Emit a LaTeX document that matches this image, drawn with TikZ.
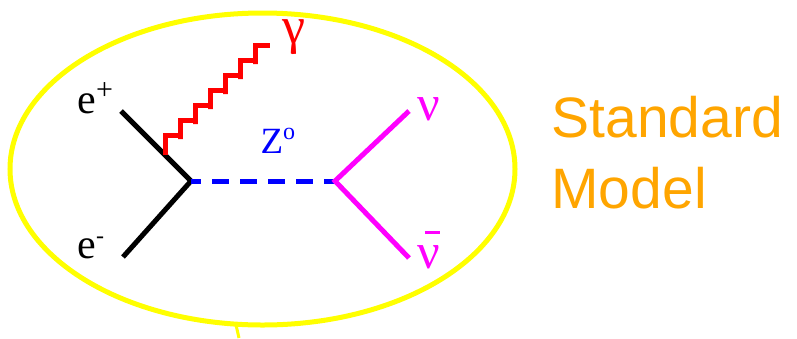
\documentclass[tikz,border=0pt]{standalone}
\usepackage{fontspec}
\setmainfont{Liberation Serif}
\newfontfamily\labelsans{Liberation Sans}
\newfontfamily\labelserif{Liberation Serif}
\usetikzlibrary{positioning,calc}
\definecolor{ellyellow}{RGB}{255,255,0}
\definecolor{smorange}{RGB}{255,165,0}
\definecolor{numagenta}{RGB}{255,0,255}
\definecolor{zblue}{RGB}{0,0,255}
\definecolor{gred}{RGB}{255,0,0}
\newcommand{\fsize}[1]{\fontsize{#1}{#1}\selectfont}
\newcommand{\upidx}[3]{\raisebox{#2pt}{\fsize{#1}#3}}

\begin{document}
\begin{tikzpicture}[x=1pt, y=-1pt, line width=5pt,
  every node/.style={inner sep=0pt, anchor=base west},
  fermion/.style={draw=black, line join=miter},
  boson/.style={draw=zblue, dash pattern=on 17pt off 11pt, dash phase=7pt},
  neutrino/.style={draw=numagenta, line join=miter},
  photon/.style={draw=gred, line join=miter}]
\useasboundingbox (0,0) rectangle (797,338);
\draw[ellyellow] (262.5,169) ellipse [x radius=252.5, y radius=156];
\draw[ellyellow, line width=3pt] (236,325) -- (239,338);

% vertices and line ends
\coordinate (vin) at (191,181);
\coordinate (vout) at (335,181);
\coordinate (eplus) at (121,111);
\coordinate (eminus) at (123,257);
\coordinate (nu) at (409,111);
\coordinate (nubar) at (409,258);
\coordinate (gstart) at ($(eplus)!0.63!(vin)$);

\draw[fermion] (eplus) -- (vin) -- (eminus);
\draw[boson] (vin) -- (vout);
\draw[neutrino] (nu) -- (vout) -- (nubar);
\draw[photon] (gstart) -- ++(0,-20)
  \foreach \k in {1,...,6}{ -- ++(15,0) -- ++(0,4) -- ++(0,-19) }
  -- ++(15,0) coordinate (gend);

% labels
\node[font=\labelserif\fsize{42}] (lep) at (75,113) {e\upidx{30}{14}{+}};
\node[font=\labelserif\fsize{42}] (lem) at (75,258) {e\upidx{24}{15}{-}};
\node[font=\labelserif\fsize{37}, text=zblue] (lz) at (258,153) {Z\upidx{24}{14}{o}};
\node[font=\labelserif\fsize{52}, text=gred] (lg) at (280,43) {γ};
\node[font=\labelserif\fsize{50}, text=numagenta] (lnu) at (415,120) {ν};
\node[font=\labelserif\fsize{50}, text=numagenta] (lnubar) at (415,268) {ν\llap{\raisebox{34pt}{\rule{15pt}{3pt}}}};

\node[font=\labelsans\fsize{57}, text=smorange] (std) at (549,137) {Standard};
\node[font=\labelsans\fsize{57}, text=smorange] (mdl) at (549,208) {Model};
\end{tikzpicture}
\end{document}
